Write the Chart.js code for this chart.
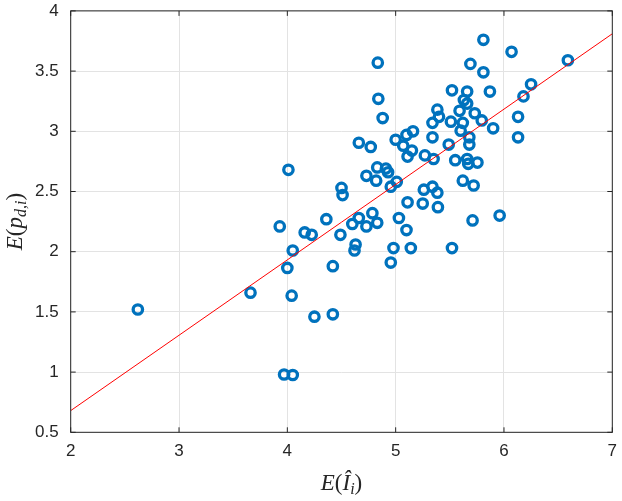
<!DOCTYPE html>
<html>
<head>
<meta charset="utf-8">
<script src="https://cdn.jsdelivr.net/npm/chart.js@4.4.0/dist/chart.umd.min.js"></script>
<style>
  html, body { margin: 0; padding: 0; background: #fff; }
  #wrap { width: 622px; height: 501px; }
</style>
</head>
<body>
<div id="wrap"><canvas id="grafico" width="622" height="501"></canvas></div>
<script>
// valores
const xVals = [
  2.62, 3.66, 3.93, 3.97, 4.00, 4.01, 4.04, 4.05, 4.05, 4.16,
  4.225, 4.25, 4.36, 4.42, 4.42, 4.49, 4.50, 4.51, 4.60, 4.62,
  4.63, 4.66, 4.66, 4.73, 4.73, 4.77, 4.785, 4.82, 4.83, 4.83,
  4.835, 4.84, 4.88, 4.91, 4.93, 4.955, 4.955, 4.98, 5.00, 5.01,
  5.03, 5.07, 5.10, 5.10, 5.11, 5.11, 5.14, 5.15, 5.16, 5.25,
  5.26, 5.27, 5.34, 5.34, 5.34, 5.35, 5.385, 5.385, 5.39, 5.40,
  5.49, 5.51, 5.52, 5.52, 5.55, 5.59, 5.60, 5.62, 5.62, 5.63,
  5.66, 5.66, 5.66, 5.67, 5.68, 5.68, 5.69, 5.71, 5.72, 5.73,
  5.755, 5.795, 5.81, 5.81, 5.87, 5.90, 5.96, 6.07, 6.13, 6.13,
  6.18, 6.25, 6.59
];
const yVals = [
  1.52, 1.66, 2.21, 0.98, 1.865, 2.68, 1.635, 0.976, 2.01, 2.16,
  2.14, 1.46, 2.27, 1.88, 1.48, 2.14, 2.53, 2.47, 2.23, 2.01,
  2.06, 2.28, 2.905, 2.21, 2.63, 2.87, 2.32, 2.59, 2.24, 2.70,
  3.57, 3.27, 3.11, 2.69, 2.66, 2.54, 1.91, 2.03, 2.93, 2.58,
  2.28, 2.88, 2.97, 2.18, 2.79, 2.41, 2.03, 2.84, 3.00, 2.40,
  2.515, 2.80, 3.07, 2.95, 2.54, 2.77, 3.18, 2.49, 2.37, 3.12,
  2.89, 3.08, 3.34, 2.03, 2.76, 3.17, 3.005, 3.07, 2.59, 3.26,
  3.33, 3.23, 2.77, 2.73, 2.95, 2.89, 3.56, 2.26, 2.55, 3.15,
  2.74, 3.09, 3.76, 3.49, 3.33, 3.025, 2.30, 3.66, 3.12, 2.95,
  3.29, 3.39, 3.59
];
const fitX = [2, 7];
const fitY = [0.68, 3.81];
const xTicks = [2, 3, 4, 5, 6, 7];
const yTicks = [0.5, 1, 1.5, 2, 2.5, 3, 3.5, 4];

const AZUL = '#0072BD';
const EIXO = '#262626';
const SERIF = '"Liberation Serif", "DejaVu Serif", serif';

function larguraPartes(ctx, partes) {
  let w = 0;
  partes.forEach(p => { ctx.font = p.font; w += ctx.measureText(p.t).width; });
  return w;
}
function desenhaPartes(ctx, partes, x, y) {
  let cx = x;
  partes.forEach(p => {
    ctx.font = p.font;
    ctx.fillText(p.t, cx, y + (p.dy || 0));
    cx += ctx.measureText(p.t).width;
  });
}

const caixaMatlab = {
  id: 'caixaMatlab',
  afterDraw(chart) {
    const ctx = chart.ctx;
    const a = chart.chartArea;
    const xs = chart.scales.x, ys = chart.scales.y;
    ctx.save();
    ctx.strokeStyle = EIXO;
    ctx.lineWidth = 1;
    ctx.beginPath();
    xTicks.forEach(v => {
      const p = xs.getPixelForValue(v);
      ctx.moveTo(p, a.bottom); ctx.lineTo(p, a.bottom - 5);
      ctx.moveTo(p, a.top); ctx.lineTo(p, a.top + 5);
    });
    yTicks.forEach(v => {
      const p = ys.getPixelForValue(v);
      ctx.moveTo(a.left, p); ctx.lineTo(a.left + 5, p);
      ctx.moveTo(a.right, p); ctx.lineTo(a.right - 5, p);
    });
    ctx.stroke();
    ctx.strokeRect(a.left, a.top, a.right - a.left, a.bottom - a.top);

    // títulos dos eixos
    ctx.fillStyle = EIXO;
    ctx.textBaseline = 'alphabetic';
    ctx.textAlign = 'left';
    const tX = [
      { t: 'E', font: 'italic 23px ' + SERIF },
      { t: '(', font: '23px ' + SERIF },
      { t: 'Î', font: 'italic 23px ' + SERIF },
      { t: 'i', font: 'italic 16px ' + SERIF, dy: 4 },
      { t: ')', font: '23px ' + SERIF }
    ];
    const cxX = (a.left + a.right) / 2;
    desenhaPartes(ctx, tX, cxX - larguraPartes(ctx, tX) / 2, 490);

    const tY = [
      { t: 'E', font: 'italic 23px ' + SERIF },
      { t: '(', font: '23px ' + SERIF },
      { t: 'p', font: 'italic 23px ' + SERIF },
      { t: 'd,i', font: 'italic 16px ' + SERIF, dy: 4 },
      { t: ')', font: '23px ' + SERIF }
    ];
    ctx.translate(22, (a.top + a.bottom) / 2);
    ctx.rotate(-Math.PI / 2);
    desenhaPartes(ctx, tY, -larguraPartes(ctx, tY) / 2, 0);
    ctx.restore();
  }
};

const ctx = document.getElementById('grafico').getContext('2d');
new Chart(ctx, {
  type: 'scatter',
  data: {
    datasets: [
      {
        type: 'line',
        label: 'ajuste',
        data: fitX.map((x, i) => ({ x: x, y: fitY[i] })),
        borderColor: '#ff0000',
        borderWidth: 1,
        pointRadius: 0,
        fill: false,
        order: 0
      },
      {
        label: 'dados',
        data: xVals.map((x, i) => ({ x: x, y: yVals[i] })),
        borderColor: AZUL,
        backgroundColor: 'rgba(0,0,0,0)',
        pointRadius: 4.7,
        pointBorderWidth: 3.3,
        pointHoverRadius: 4.7,
        order: 1
      }
    ]
  },
  options: {
    responsive: false,
    animation: false,
    layout: { padding: { top: 10.9, right: 9.7, left: 0, bottom: 0 } },
    plugins: { legend: { display: false }, tooltip: { enabled: false } },
    scales: {
      x: {
        type: 'linear', min: 2, max: 7,
        afterBuildTicks: s => { s.ticks = xTicks.map(v => ({ value: v })); },
        afterFit: s => { s.height = 68.7; s.paddingLeft = 0; s.paddingRight = 0; },
        grid: { color: '#e3e3e3', drawTicks: false },
        border: { display: false },
        ticks: { padding: 9, color: EIXO, font: { family: '"Liberation Sans", Arial, sans-serif', size: 17 }, callback: v => String(v) }
      },
      y: {
        type: 'linear', min: 0.5, max: 4,
        afterBuildTicks: s => { s.ticks = yTicks.map(v => ({ value: v })); },
        afterFit: s => { s.width = 70.7; s.paddingTop = 0; s.paddingBottom = 0; },
        grid: { color: '#e3e3e3', drawTicks: false },
        border: { display: false },
        ticks: { padding: 12, color: EIXO, font: { family: '"Liberation Sans", Arial, sans-serif', size: 17 }, callback: v => String(v) }
      }
    }
  },
  plugins: [caixaMatlab]
});
</script>
</body>
</html>
